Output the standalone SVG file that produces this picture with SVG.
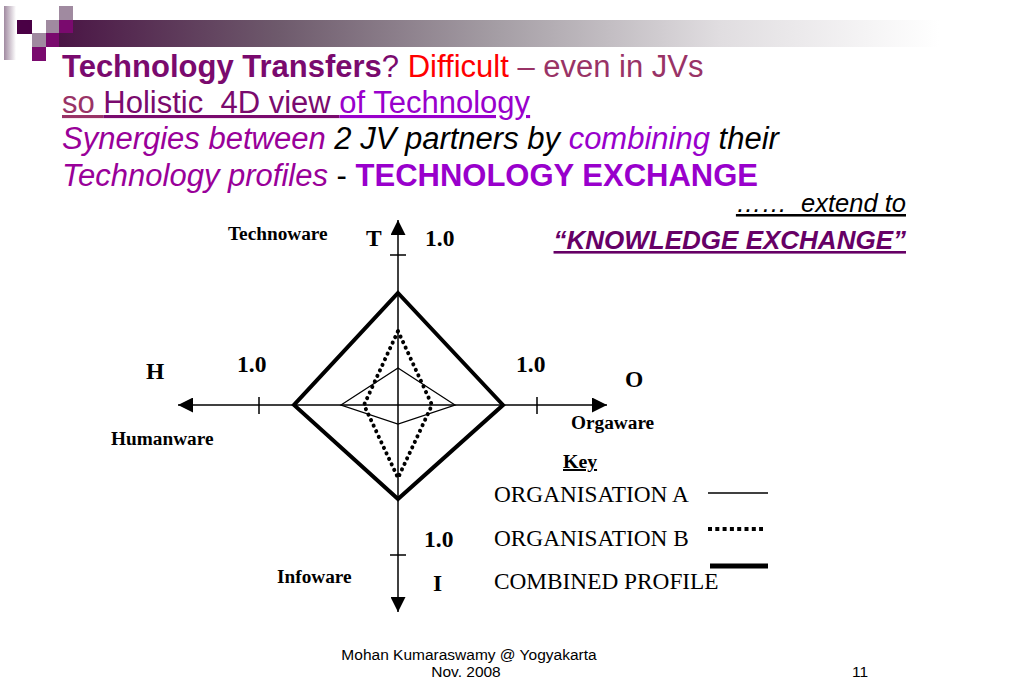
<svg xmlns="http://www.w3.org/2000/svg" width="1018" height="700" viewBox="0 0 1018 700">
<defs>
<linearGradient id="bar" x1="0" y1="0" x2="1" y2="0">
<stop offset="0" stop-color="#4a1545"/>
<stop offset="0.25" stop-color="#6e5a6c"/>
<stop offset="0.5" stop-color="#a59ea5"/>
<stop offset="0.75" stop-color="#e0dde0"/>
<stop offset="1" stop-color="#ffffff"/>
</linearGradient>
<linearGradient id="strip" x1="0" y1="0" x2="1" y2="0">
<stop offset="0" stop-color="#a08aa0"/>
<stop offset="1" stop-color="#ffffff"/>
</linearGradient>
<marker id="ah" viewBox="0 0 10 10" refX="10" refY="5" markerWidth="15" markerHeight="15" markerUnits="userSpaceOnUse" orient="auto">
<path d="M0,0 L10,5 L0,10 z" fill="#000"/>
</marker>
<style>
text{white-space:pre}
.t{font-family:"Liberation Sans",Arial,sans-serif;font-size:31px}
.ax{font-family:"Liberation Serif","Times New Roman",serif;font-weight:bold;font-size:23.5px;fill:#000}
.axs{font-family:"Liberation Serif","Times New Roman",serif;font-weight:bold;font-size:19.3px;fill:#000}
.key{font-family:"Liberation Serif","Times New Roman",serif;font-size:23.3px;fill:#000}
.foot{font-family:"Liberation Sans",Arial,sans-serif;font-size:15.5px;fill:#000}
.axis{stroke:#000;stroke-width:1.5;fill:none}
</style>
</defs>

<g id="logo">
<rect x="59" y="20" width="880" height="27" fill="url(#bar)"/>
<rect x="4" y="6" width="12" height="54" fill="url(#strip)"/>
<rect x="17" y="20" width="15" height="14" fill="#4a0045"/>
<rect x="59" y="6" width="14" height="14" fill="#a08aa0"/>
<rect x="46" y="20" width="13" height="13" fill="#a08aa0"/>
<rect x="59" y="20" width="14" height="13" fill="#7a0a6e"/>
<rect x="32" y="33" width="14" height="14" fill="#a08aa0"/>
<rect x="46" y="33" width="13" height="14" fill="#7a0a6e"/>
<rect x="32" y="47" width="14" height="14" fill="#7a0a6e"/>
</g>

<g id="title">
<text class="t" x="62" y="77"><tspan font-weight="bold" fill="#7a0a6e">Technology Transfers</tspan><tspan fill="#7a0a6e">? </tspan><tspan fill="#ff0000">Difficult</tspan><tspan fill="#993366"> – even in JVs</tspan></text>
<text class="t" x="62" y="113" xml:space="preserve"><tspan fill="#993366" text-decoration="underline">so </tspan><tspan fill="#7a0a6e" text-decoration="underline">Holistic  4D view </tspan><tspan fill="#9900cc" text-decoration="underline">of Technology</tspan></text>
<text class="t" x="62" y="149" font-style="italic"><tspan fill="#990099">Synergies between</tspan><tspan fill="#000"> 2 JV partners by </tspan><tspan fill="#9900cc">combining</tspan><tspan fill="#000"> their</tspan></text>
<text class="t" x="62" y="186"><tspan fill="#990099" font-style="italic">Technology profiles</tspan><tspan fill="#000"> - </tspan><tspan fill="#9900cc" font-weight="bold">TECHNOLOGY EXCHANGE</tspan></text>
<text x="906" y="212" text-anchor="end" font-family="Liberation Sans, Arial, sans-serif" font-size="25.5" font-style="italic" fill="#000" text-decoration="underline" xml:space="preserve">……  extend to</text>
<text x="906" y="249" text-anchor="end" font-family="Liberation Sans, Arial, sans-serif" font-size="26" font-style="italic" font-weight="bold" fill="#660066" text-decoration="underline">“KNOWLEDGE EXCHANGE”</text>
</g>

<g id="connectors">
<line class="axis" x1="398" y1="405" x2="398" y2="220" marker-end="url(#ah)"/>
<line class="axis" x1="398" y1="405" x2="398" y2="612" marker-end="url(#ah)"/>
<line class="axis" x1="398" y1="405" x2="178" y2="405" marker-end="url(#ah)"/>
<line class="axis" x1="398" y1="405" x2="607" y2="405" marker-end="url(#ah)"/>
<path class="axis" d="M390,255 H406 M390,555 H406 M259,397 V414 M537,397 V414"/>
</g>

<g id="profiles">
<polygon points="398,293 503,405 398,499 294,405" fill="none" stroke="#000" stroke-width="4" stroke-linejoin="miter"/>
<polygon points="398,331 432,405 398,478 364,405" fill="none" stroke="#000" stroke-width="4" stroke-dasharray="0.1 6" stroke-linecap="round"/>
<polygon points="398,368 455,405 398,424 341,405" fill="none" stroke="#000" stroke-width="1.3"/>
</g>

<g id="axis-labels">
<text class="axs" x="228" y="240">Technoware</text>
<text class="ax" x="366" y="246">T</text>
<text class="ax" x="425" y="246">1.0</text>
<text class="ax" x="146" y="379">H</text>
<text class="ax" x="237" y="372">1.0</text>
<text class="ax" x="516" y="372">1.0</text>
<text class="ax" x="625" y="387">O</text>
<text class="axs" x="571" y="429">Orgaware</text>
<text class="axs" x="111" y="445">Humanware</text>
<text class="ax" x="424" y="547">1.0</text>
<text class="axs" x="277" y="583">Infoware</text>
<text class="ax" x="433" y="591">I</text>
</g>

<g id="key">
<text x="563" y="468" font-family="Liberation Serif, Times New Roman, serif" font-weight="bold" font-size="19.8" text-decoration="underline">Key</text>
<text class="key" x="494" y="502">ORGANISATION A</text>
<text class="key" x="494" y="546">ORGANISATION B</text>
<text class="key" x="494" y="589">COMBINED PROFILE</text>
<line x1="708" y1="493" x2="768" y2="493" stroke="#000" stroke-width="1.3"/>
<line x1="708" y1="529" x2="763" y2="529" stroke="#000" stroke-width="4" stroke-dasharray="4 3.3"/>
<line x1="710" y1="566" x2="768" y2="566" stroke="#000" stroke-width="5"/>
</g>

<g id="footer">
<text class="foot" x="469" y="660" text-anchor="middle">Mohan Kumaraswamy @ Yogyakarta</text>
<text class="foot" x="466" y="677" text-anchor="middle">Nov. 2008</text>
<text class="foot" x="860" y="677" text-anchor="middle">11</text>
</g>
</svg>
